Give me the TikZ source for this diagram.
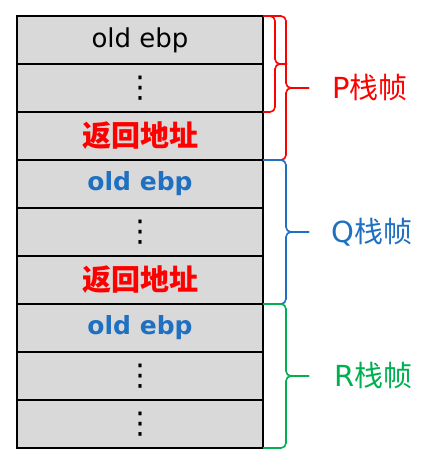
\documentclass[tikz,border=0pt]{standalone}
\usepackage{fontspec}
\setmainfont{DejaVu Sans}
\newfontfamily\cjk{Noto Sans CJK SC}
\usetikzlibrary{positioning}
\definecolor{gris}{HTML}{D9D9D9}
\definecolor{azul}{HTML}{1F70C0}
\definecolor{verde}{HTML}{00B050}
\definecolor{rojo}{HTML}{FF0000}

\begin{document}
\begin{tikzpicture}[node distance=0pt,
  celda/.style={draw, fill=gris, line width=1.2pt, outer sep=0pt, inner sep=0pt,
    minimum width=246pt, minimum height=48pt, font=\fontsize{26}{30}\selectfont},
  puntos/.style={font=\fontsize{30}{30}\selectfont},
  ebp/.style={text=azul, font=\fontsize{25}{29}\selectfont\bfseries},
  ret/.style={text=rojo, font=\fontsize{29}{34}\selectfont\cjk\bfseries},
  llave/.style={line width=1.6pt, rounded corners=5pt},
  etiqueta/.style={inner sep=0pt, font=\fontsize{29}{34}\selectfont}]
\useasboundingbox (0,0) rectangle (430pt,-461pt);

% celdas
\node [celda] (c1) at (140pt,-40pt) {old ebp};
\node [celda, puntos] (c2) [below=of c1] {⋮};
\node [celda, ret] (c3) [below=of c2] {返回地址};
\node [celda, ebp] (c4) [below=of c3] {old ebp};
\node [celda, puntos] (c5) [below=of c4] {⋮};
\node [celda, ret] (c6) [below=of c5] {返回地址};
\node [celda, ebp] (c7) [below=of c6] {old ebp};
\node [celda, puntos] (c8) [below=of c7] {⋮};
\node [celda, puntos] (c9) [below=of c8] {⋮};

% llaves
\coordinate (mp) at ([xshift=23pt]c2.east);
\coordinate (tp) at ([xshift=46pt]c2.east);
\coordinate (mq) at ([xshift=23pt]c5.east);
\coordinate (tq) at ([xshift=46pt]c5.east);
\coordinate (mr) at ([xshift=23pt]c8.east);
\coordinate (tr) at ([xshift=46pt]c8.east);
\coordinate (ms) at ([xshift=12pt]c1.south east);
\coordinate (ts) at ([xshift=24pt]c1.south east);

\draw[llave, rojo] (c1.north east) -| (ms) -- (ts);
\draw[llave, rojo] (c2.south east) -| (ms) -- (ts);
\draw[llave, rojo] (c1.north east) -| (mp) -- (tp);
\draw[llave, rojo] (c3.south east) -| (mp) -- (tp);
\draw[llave, azul] (c4.north east) -| (mq) -- (tq);
\draw[llave, azul] (c6.south east) -| (mq) -- (tq);
\draw[llave, verde] (c7.north east) -| (mr) -- (tr);
\draw[llave, verde] (c9.south east) -| (mr) -- (tr);

% etiquetas
\node [etiqueta, text=rojo] (p) [right=23pt of tp] {P{\cjk 栈帧}};
\node [etiqueta, text=azul] (q) [right=22pt of tq] {Q{\cjk 栈帧}};
\node [etiqueta, text=verde] (r) [right=25pt of tr] {R{\cjk 栈帧}};
\end{tikzpicture}
\end{document}
